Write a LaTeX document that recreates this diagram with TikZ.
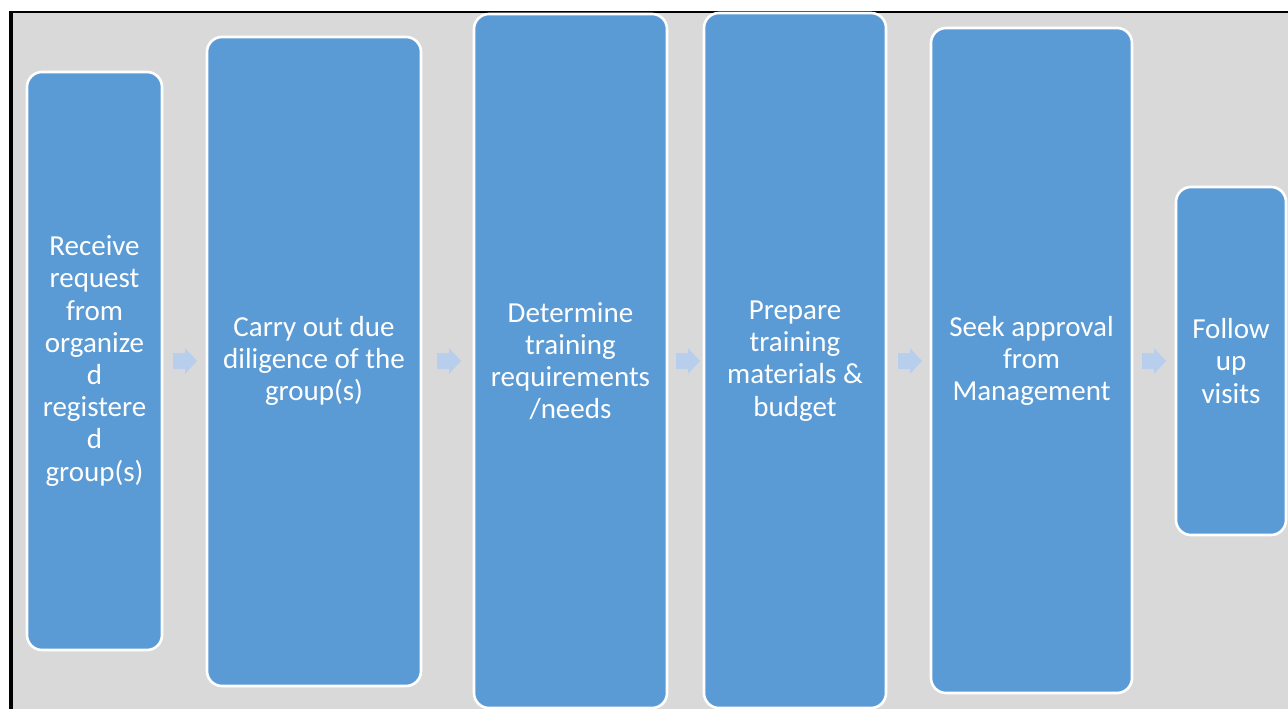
\documentclass[tikz,border=0pt]{standalone}
\usepackage{fontspec}
\setmainfont{Carlito}
\definecolor{stepblue}{HTML}{5B9BD5}
\definecolor{panelgray}{HTML}{D9D9D9}
\definecolor{arrowblue}{HTML}{B7CFEC}
\begin{document}
\begin{tikzpicture}[x=1pt,y=-1pt,
  stepbox/.style={draw=white,line width=2.6pt,fill=stepblue,rounded corners=15pt},
  steptext/.style={text=white,align=center,font=\fontsize{29}{32.2}\selectfont,inner sep=0pt},
  flowarrow/.style={fill=arrowblue,draw=none}]
\useasboundingbox (0,0) rectangle (1288,709);
% frame and background panel
\fill[white] (0,0) rectangle (1288,709);
\fill[black] (9,11) rectangle (1288,709);
\fill[panelgray] (13,13) rectangle (1288,709);
% process steps
\draw[stepbox] (27,72) rectangle (162,650);
\draw[stepbox] (207,37) rectangle (421,686);
\draw[stepbox] (474,14) rectangle (667,708);
\draw[stepbox] (704,13) rectangle (886,708);
\draw[stepbox] (931,28) rectangle (1132,693);
\draw[stepbox] (1176,187) rectangle (1286,535);
\node[steptext] (s1) at (94.5,361) {Receive\\request\\from\\organize\\d\\registere\\d\\group(s)};
\node[steptext] (s2) at (314,361) {Carry out due\\diligence of the\\group(s)};
\node[steptext] (s3) at (570.5,361) {Determine\\training\\requirements\\/needs};
\node[steptext] (s4) at (795,361) {Prepare\\training\\materials \&\\budget};
\node[steptext] (s5) at (1031.5,361) {Seek approval\\from\\Management};
\node[steptext] (s6) at (1231,361) {Follow\\up\\visits};
% connecting arrows
\foreach \x/\n in {173/a1,437/a2,676/a3,898/a4,1142/a5}{
  \fill[flowarrow] (\x,353) -- (\x+12,353) -- (\x+12,348) -- (\x+24,361)
    -- (\x+12,374) -- (\x+12,369) -- (\x,369) -- cycle;
}
\end{tikzpicture}
\end{document}
